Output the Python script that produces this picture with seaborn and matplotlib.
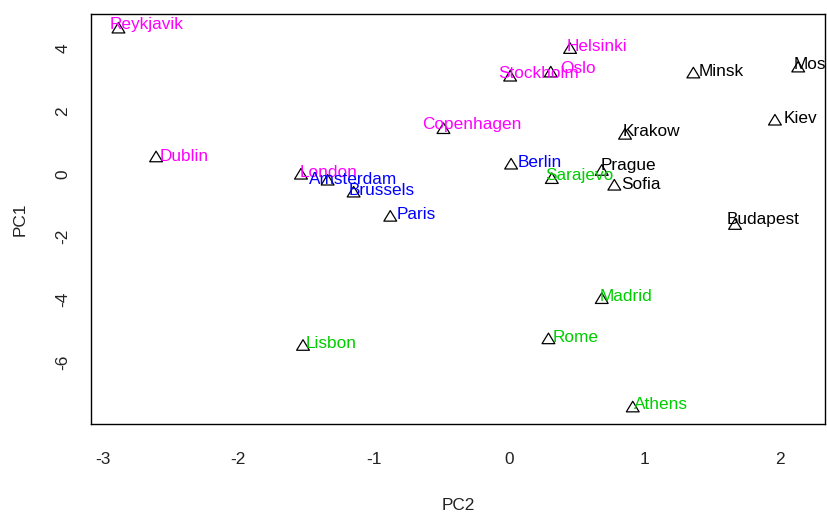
import matplotlib
matplotlib.use("Agg")
import matplotlib.pyplot as plt
from matplotlib import font_manager
from matplotlib.markers import MarkerStyle
from matplotlib.path import Path
import seaborn as sns
import pandas as pd

# City scores on the first two principal components
cities = ["Reykjavik", "Dublin", "London", "Amsterdam", "Brussels", "Paris",
          "Berlin", "Sarajevo", "Prague", "Sofia", "Copenhagen", "Stockholm",
          "Oslo", "Helsinki", "Minsk", "Moscow", "Kiev", "Krakow", "Budapest",
          "Madrid", "Rome", "Athens", "Lisbon"]
pc2 = [-2.886, -2.608, -1.537, -1.340, -1.148, -0.877,
       0.016, 0.317, 0.686, 0.779, -0.484, 0.009,
       0.309, 0.452, 1.363, 2.138, 1.966, 0.858, 1.671,
       0.686, 0.292, 0.915, -1.522]
pc1 = [4.65, 0.55, 0.00, -0.19, -0.57, -1.34,
       0.32, -0.14, 0.12, -0.35, 1.45, 3.12,
       3.25, 4.00, 3.22, 3.41, 1.72, 1.27, -1.60,
       -3.96, -5.24, -7.41, -5.45]
cluster = ["north", "north", "north", "west", "west", "west",
           "west", "south", "east", "east", "north", "north",
           "north", "north", "east", "east", "east", "east", "east",
           "south", "south", "south", "south"]

cluster_colors = {"north": "#FF00FF", "west": "#0000FF",
                  "south": "#00CD00", "east": "#000000"}

# label offsets from each point, in pixels (right, down)
label_dx = [-9, 3.3, -1.4, -19, -5, 6.7, 6.3, -6.7, -0.7, 6.4, -21.3, -12.3,
            9.3, -3.3, 5, -5, 8.3, -2.3, -8.3, -1.7, 4.4, 1.6, 2.3]
label_dy = [-3.5, -0.5, -1.1, -0.5, -1.2, -1.5, -1.8, -3.1, -4.8, -0.5, -3.8, -2.1,
            -3.2, -2.1, -1.5, -2.2, -1.8, -2.1, -4.5, -2.1, -1.4, -2.2, -2.1]

xticks = [-3, -2, -1, 0, 1, 2]
yticks = [-6, -4, -2, 0, 2, 4]

df = pd.DataFrame({"PC2": pc2, "PC1": pc1, "city": cities, "cluster": cluster})

sns.set_style("white")
names = {f.name for f in font_manager.fontManager.ttflist}
if "Liberation Sans Narrow" in names:
    family, fsize = "Liberation Sans Narrow", 14.5
else:
    family, fsize = "Liberation Sans", 12.4
plt.rcParams["font.family"] = [family, "DejaVu Sans"]

DPI = 100
fig = plt.figure(figsize=(8.27, 5.13), dpi=DPI)
ax = fig.add_axes([91 / 827, 1 - 424 / 513, (825 - 91) / 827, (424 - 14) / 513])

# open triangle, slightly wider than tall
tri = MarkerStyle(Path([(0, 0.85), (-1, -0.8), (1, -0.8), (0, 0.85)],
                       [Path.MOVETO, Path.LINETO, Path.LINETO, Path.CLOSEPOLY]))
sns.scatterplot(data=df, x="PC2", y="PC1", marker=tri, s=85,
                facecolors="none", edgecolor="black", linewidth=0.9,
                ax=ax, legend=False, zorder=2)

px2pt = 72 / DPI
for x, y, name, c, dx, dy in zip(pc2, pc1, cities, cluster, label_dx, label_dy):
    ax.annotate(name, (x, y), xytext=(dx * px2pt, -dy * px2pt),
                textcoords="offset points", ha="left", va="center",
                color=cluster_colors[c], fontsize=fsize, clip_on=True,
                annotation_clip=True, zorder=3)

ax.set_xlim(-3.089, 2.336)
ax.set_ylim(-7.96, 5.09)
ax.set_xticks(xticks)
ax.set_yticks(yticks)
ax.set_xticklabels([str(t) for t in xticks], fontsize=fsize)
ax.set_yticklabels([str(t) for t in yticks], fontsize=fsize, rotation=90,
                   va="center")
ax.tick_params(axis="both", direction="out", length=8, width=0.8,
               color="#333333", colors="#222222")
ax.tick_params(axis="x", pad=12.5)
ax.tick_params(axis="y", pad=7)
for sp in ax.spines.values():
    sp.set_visible(True)
    sp.set_color("black")
    sp.set_linewidth(1.0)
ax.set_xlabel("PC2", fontsize=fsize, color="#222222", labelpad=22)
ax.set_ylabel("PC1", fontsize=fsize, color="#222222", labelpad=20)

fig.savefig("out.png", dpi=DPI, facecolor="white")
